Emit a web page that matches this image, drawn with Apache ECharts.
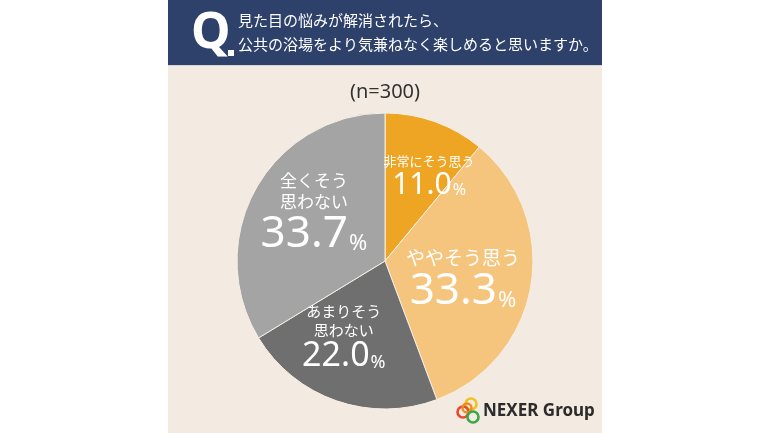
<!DOCTYPE html>
<html>
<head>
<meta charset="utf-8">
<script src="https://cdn.jsdelivr.net/npm/echarts@6/dist/echarts.min.js"></script>
<style>
html, body { margin: 0; padding: 0; background: #ffffff; }
#main { width: 770px; height: 433px; }
</style>
</head>
<body>
<div id="main"></div>
<script>
var categories = ['非常にそう思う', 'ややそう思う', 'あまりそう\n思わない', '全くそう\n思わない'];
var values = [11.0, 33.3, 22.0, 33.7];
var colors = ['#efa524', '#f5c57e', '#6f6f6f', '#a4a4a4'];
var titleLines = ['見た目の悩みが解消されたら、', '公共の浴場をより気兼ねなく楽しめると思いますか。'];
var sampleNote = '(n=300)';

// per-slice label tuning (font sizes, offsets)
var labelCfg = [
  { name: 13, num: 30, pct: 16, offset: [18, -12] },
  { name: 19, num: 44, pct: 22, offset: [2, 6] },
  { name: 15, num: 34, pct: 18, offset: [-16, 4] },
  { name: 17, num: 44, pct: 22, offset: [-4, -10] }
];

var FONT = '"Noto Sans CJK JP", "Noto Sans", sans-serif';

var pieData = categories.map(function (c, i) {
  var cfg = labelCfg[i];
  return {
    name: c,
    value: values[i],
    itemStyle: { color: colors[i] },
    label: {
      offset: cfg.offset,
      rich: {
        n: { fontSize: cfg.name, color: '#fff', fontFamily: FONT, lineHeight: cfg.name + 4, align: 'center' },
        v: { fontSize: cfg.num, color: '#fff', fontFamily: '"Noto Sans", sans-serif', lineHeight: cfg.num },
        p: { fontSize: cfg.pct, color: '#fff', fontFamily: '"Noto Sans", sans-serif', lineHeight: cfg.num, verticalAlign: 'bottom', padding: [0, 0, 2, 1] }
      }
    }
  };
});

var chart = echarts.init(document.getElementById('main'));
var option = {
  backgroundColor: '#ffffff',
  animation: false,
  graphic: [
    { type: 'rect', z: -10, shape: { x: 168, y: 0, width: 434, height: 433 }, style: { fill: '#f3eae1' } },
    { type: 'rect', z: -9, shape: { x: 168, y: 0, width: 434, height: 65 }, style: { fill: '#2e416b' } },
    { type: 'rect', z: -9, shape: { x: 168, y: 65, width: 434, height: 1 }, style: { fill: '#d8d8dc' } },
    { type: 'text', left: 191, top: 9, style: { text: 'Q', fill: '#fff', font: 'bold 50px "Noto Sans", sans-serif' } },
    { type: 'rect', shape: { x: 228, y: 50, width: 6, height: 6 }, style: { fill: '#fff' } },
    { type: 'text', left: 238, top: 13, style: { text: titleLines[0], fill: '#fff', font: '15px ' + FONT } },
    { type: 'text', left: 238, top: 37, style: { text: titleLines[1], fill: '#fff', font: '15px ' + FONT } },
    { type: 'text', left: 'center', top: 82, style: { text: sampleNote, fill: '#333', font: '20px "Noto Sans", sans-serif' } },
    { type: 'circle', shape: { cx: 471, cy: 404, r: 5.5 }, style: { fill: 'none', stroke: '#f2c21c', lineWidth: 2.6 } },
    { type: 'circle', shape: { cx: 463, cy: 412, r: 5.5 }, style: { fill: 'none', stroke: '#e8482f', lineWidth: 2.6 } },
    { type: 'circle', shape: { cx: 467, cy: 408, r: 4.5 }, style: { fill: 'none', stroke: '#f08a22', lineWidth: 2.4 } },
    { type: 'circle', shape: { cx: 473, cy: 417, r: 5.5 }, style: { fill: 'none', stroke: '#3aa847', lineWidth: 2.6 } },
    { type: 'text', left: 483, top: 403, style: { text: 'NEXER Group', fill: '#2b2b2b', font: 'bold 17px "Noto Sans", sans-serif' } }
  ],
  series: [
    {
      type: 'pie',
      center: [385, 261],
      radius: [0, 148],
      startAngle: 90,
      clockwise: true,
      silent: true,
      itemStyle: { borderColor: '#f6efe8', borderWidth: 1 },
      label: {
        show: true,
        position: 'inside',
        formatter: function (p) {
          var lines = p.name.split('\n').map(function (l) { return '{n|' + l + '}'; });
          lines.push('{v|' + p.value.toFixed(1) + '}{p|%}');
          return lines.join('\n');
        }
      },
      labelLine: { show: false },
      data: pieData
    }
  ]
};
chart.setOption(option);
</script>
</body>
</html>
